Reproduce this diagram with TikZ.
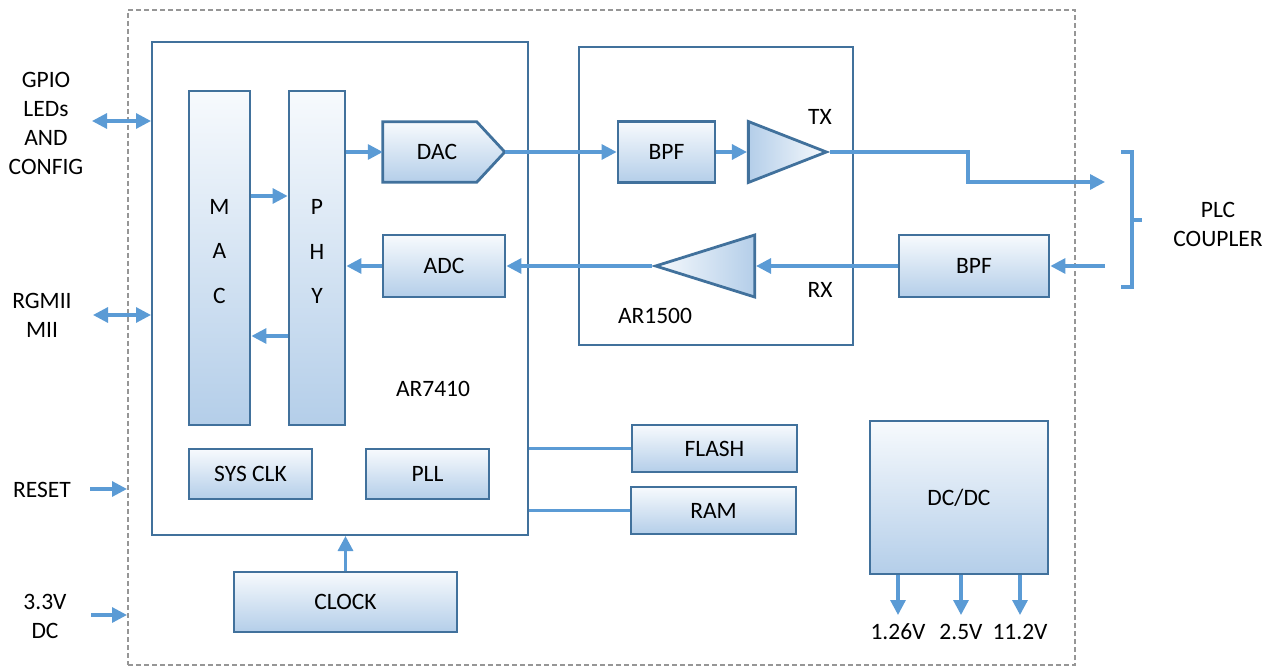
\documentclass[tikz,border=0pt]{standalone}
\usepackage{fontspec}
\setmainfont{Carlito}
\usetikzlibrary{arrows.meta,shapes.geometric,backgrounds,calc}

\definecolor{boxline}{RGB}{65,113,156}
\definecolor{wireblue}{RGB}{91,155,213}
\definecolor{fadetop}{RGB}{247,250,253}
\definecolor{fadebot}{RGB}{180,206,233}
\definecolor{framegray}{RGB}{150,150,150}

\tikzset{
  block/.style={draw=boxline, line width=2.8pt, top color=fadetop, bottom color=fadebot, inner sep=0pt},
  chip/.style={draw=boxline, line width=2pt, inner sep=0pt},
  amp/.style={isosceles triangle, isosceles triangle stretches, draw=boxline, line width=2.8pt, inner sep=0pt},
  sig/.style={draw=wireblue, line width=3.2pt, -{Triangle[length=15pt,width=15pt]}},
  bisig/.style={sig, {Triangle[length=15pt,width=15pt]}-{Triangle[length=15pt,width=15pt]}},
  bus/.style={draw=wireblue, line width=3.2pt},
}

\begin{document}
\begin{tikzpicture}[x=1pt,y=-1pt,font=\fontsize{23.5}{29}\selectfont]
\useasboundingbox (0,0) rectangle (1266,668);

% board outline
\node[draw=framegray, line width=2pt, dash pattern=on 5pt off 3pt, minimum width=947, minimum height=655, inner sep=0pt] (board) at (601.5,337.5) {};

% AR7410
\node[chip, minimum width=376, minimum height=493] (ar7410) at (340,288.5) {};
\node (ar7410lbl) at (433,389) {AR7410};
\node[block, minimum width=61, minimum height=334] (mac) at (219.5,258) {};
\node[block, minimum width=56, minimum height=334] (phy) at (317,258) {};
\node[align=center, font=\fontsize{23.5}{44.5}\selectfont] (macl) at (219.5,251.5) {M\\A\\C};
\node[align=center, font=\fontsize{23.5}{44.5}\selectfont] (phyl) at (317,251.5) {P\\H\\Y};
\node[minimum width=108, minimum height=60, inner sep=0pt] (dac) at (437,152) {DAC};
\begin{scope}[on background layer]
\draw[block] (dac.north west) -- ++(94,0) -- ($(dac.west)+(122,0)$) -- ($(dac.south west)+(94,0)$) -- (dac.south west) -- cycle;
\end{scope}
\coordinate (dactip) at ($(dac.west)+(122,0)$);
\node[block, minimum width=122, minimum height=62] (adc) at (444,266) {ADC};
\node[block, minimum width=123, minimum height=50] (sysclk) at (250.5,474) {SYS CLK};
\node[block, minimum width=123, minimum height=50] (pll) at (427.5,474) {PLL};

% AR1500
\node[chip, minimum width=274, minimum height=298] (ar1500) at (716,196) {};
\node (ar1500lbl) at (655,316) {AR1500};
\node[block, minimum width=97, minimum height=61] (txbpf) at (666.5,152) {BPF};
\node[amp, shape border rotate=0, minimum width=61, minimum height=78, left color=fadebot, right color=fadetop, anchor=apex] (txamp) at (830,152) {};
\node (txlbl) at (820,117) {TX};
\node[amp, shape border rotate=180, minimum width=62, minimum height=99, left color=fadetop, right color=fadebot, anchor=apex] (rxamp) at (652,266) {};
\node (rxlbl) at (820,290) {RX};
\node[block, minimum width=150, minimum height=62] (rxbpf) at (974,266) {BPF};

% memory, clock, power
\node[block, minimum width=165, minimum height=47] (flash) at (714.5,448.5) {FLASH};
\node[block, minimum width=165, minimum height=47] (ram) at (713.5,510.5) {RAM};
\node[block, minimum width=223, minimum height=60] (clock) at (345.5,602) {CLOCK};
\node[block, minimum width=178, minimum height=153] (dcdc) at (959,497.5) {DC/DC};

% inside AR7410
\draw[sig] ([yshift=62pt]mac.east) -- ([yshift=62pt]mac.east -| phy.west);
\draw[sig] ([yshift=-78pt]phy.west) -- ([yshift=-78pt]phy.west -| mac.east);
\draw[sig] (dac.west -| phy.east) -- (dac.west);
\draw[sig] (adc.west) -- (adc.west -| phy.east);

% TX / RX paths
\draw[sig] (dactip) -- (txbpf.west);
\draw[sig] (txbpf.east) -- (txamp.west);
\coordinate (txbend) at (968,152);
\coordinate (cpltx) at (1105,182);
\draw[sig] (txamp.apex) -- (txbend) |- (cpltx);
\coordinate (cplrx) at (1105,266);
\draw[sig] (cplrx) -- (rxbpf.east);
\draw[sig] (rxbpf.west) -- (rxamp.east);
\draw[sig] (rxamp.apex) -- (adc.east);

% memory bus and clock
\draw[bus] (flash.west -| ar7410.east) -- (flash.west);
\draw[bus] (ram.west -| ar7410.east) -- (ram.west);
\draw[sig] (clock.north) -- (clock.north |- ar7410.south);

% left side
\node[align=center] (gpio) at (46,123.5) {GPIO\\LEDs\\AND\\CONFIG};
\coordinate (gpioend) at (92,121);
\draw[bisig] (gpioend) -- (gpioend -| ar7410.west);
\node[align=center] (rgmii) at (42,315) {RGMII\\MII};
\coordinate (rgmiiend) at (93,315);
\draw[bisig] (rgmiiend) -- (rgmiiend -| ar7410.west);
\node (reset) at (42,490) {RESET};
\coordinate (resetend) at (90,489);
\draw[sig] (resetend) -- (resetend -| board.west);
\node[align=center] (vin) at (45,616) {3.3V\\DC};
\coordinate (vinend) at (91,615);
\draw[sig] (vinend) -- (vinend -| board.west);

% right side
\draw[bus] (1121,152) -- (1132,152) -- (1132,287) -- (1121,287) (1132,220) -- (1142,220);
\node[align=center] (coupler) at (1218,224) {PLC\\COUPLER};

% DC/DC outputs
\foreach \x/\v/\n in {898/1.26V/a, 961/2.5V/b, 1020/11.2V/c}{
  \coordinate (out\n) at (\x,615);
  \draw[sig] (out\n |- dcdc.south) -- (out\n);
  \node (lbl\n) at (\x,632) {\v};
}
\end{tikzpicture}
\end{document}
